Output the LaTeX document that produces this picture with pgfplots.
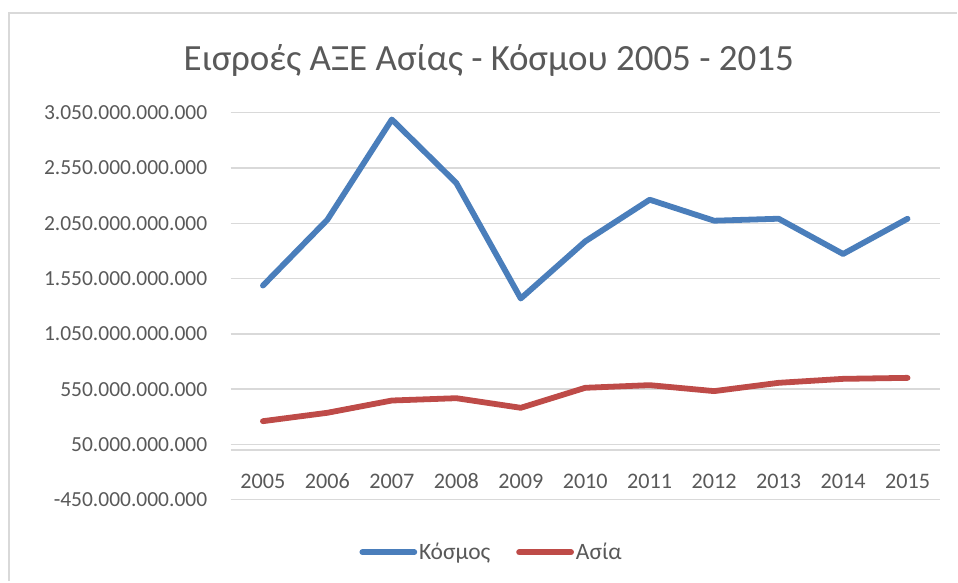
\documentclass[border=0pt]{standalone}
\usepackage{pgfplots}
\pgfplotsset{compat=1.18}
\usepackage{fontspec}
\setmainfont{Carlito}
\definecolor{txt}{HTML}{595959}
\definecolor{grd}{HTML}{D9D9D9}
\definecolor{sblue}{HTML}{4A7EBB}
\definecolor{sred}{HTML}{BE4B48}
\begin{document}
\begin{tikzpicture}[x=1pt,y=1pt]
\path[fill=white] (0,0) rectangle (958,582);
\draw[grd, line width=2.5pt] (9,0) -- (9,569) -- (958,569);
\begin{axis}[
  at={(231pt,81.7pt)}, anchor=south west,
  scale only axis, width=710pt, height=387.3pt,
  xmin=-0.5, xmax=10.5,
  ymin=-450000000000, ymax=3050000000000,
  xtick={0,1,2,3,4,5,6,7,8,9,10},
  xticklabels={2005,2006,2007,2008,2009,2010,2011,2012,2013,2014,2015},
  ytick={-450000000000,50000000000,550000000000,1050000000000,1550000000000,2050000000000,2550000000000,3050000000000},
  yticklabels={-450.000.000.000,50.000.000.000,550.000.000.000,1.050.000.000.000,1.550.000.000.000,2.050.000.000.000,2.550.000.000.000,3.050.000.000.000},
  scaled y ticks=false,
  /pgf/number format/assume math mode=true,
  axis line style={draw=none},
  major tick length=0pt,
  ymajorgrids, grid style={grd, line width=1.3pt},
  extra y ticks={0}, extra y tick labels={},
  extra y tick style={grid style={grd, line width=1.3pt}},
  ticklabel style={font=\fontsize{22.2}{26}\selectfont, text=txt},
  y tick label style={xshift=-20pt, font=\fontsize{21.5}{25}\selectfont},
  x tick label style={anchor=center, yshift=18.5pt},
  title={Εισροές ΑΞΕ Ασίας - Κόσμου 2005 - 2015},
  title style={at={(0.364,1.12)}, anchor=center, font=\fontsize{37}{44}\selectfont, text=txt},
  legend columns=2,
  legend style={at={(0.368,-0.136)}, anchor=center, draw=none, fill=none,
    font=\fontsize{23.5}{28}\selectfont, text=txt,
    /tikz/every even column/.append style={column sep=24pt}},
  legend image code/.code={\draw[#1, line cap=round] (0pt,0pt) -- (52pt,0pt);},
  clip=false,
]
\addplot[sblue, line width=5.8pt, line cap=round, line join=round] coordinates {
  (0,1487000000000) (1,2083000000000) (2,2990000000000) (3,2415000000000)
  (4,1370000000000) (5,1887000000000) (6,2264000000000) (7,2074000000000)
  (8,2092000000000) (9,1773000000000) (10,2092000000000)};
\addlegendentry{Κόσμος}
\addplot[sred, line width=5.8pt, line cap=round, line join=round] coordinates {
  (0,260000000000) (1,336000000000) (2,447000000000) (3,468000000000)
  (4,381000000000) (5,562000000000) (6,586000000000) (7,532000000000)
  (8,607000000000) (9,643000000000) (10,652000000000)};
\addlegendentry{Ασία}
\end{axis}
\end{tikzpicture}
\end{document}
